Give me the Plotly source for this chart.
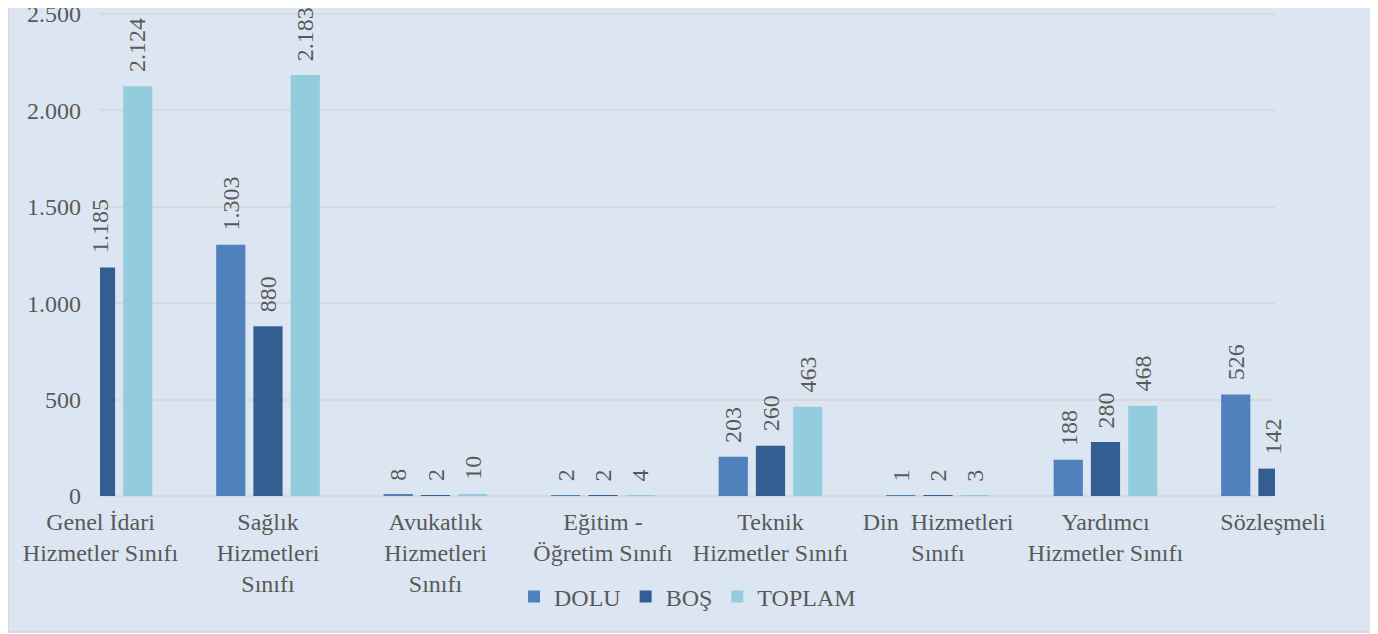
import plotly.graph_objects as go

categories = [
    "Genel İdari<br>Hizmetler Sınıfı",
    "Sağlık<br>Hizmetleri<br>Sınıfı",
    "Avukatlık<br>Hizmetleri<br>Sınıfı",
    "Eğitim -<br>Öğretim Sınıfı",
    "Teknik<br>Hizmetler Sınıfı",
    "Din  Hizmetleri<br>Sınıfı",
    "Yardımcı<br>Hizmetler Sınıfı",
    "Sözleşmeli",
]
dolu = [None, 1303, 8, 2, 203, 1, 188, 526]
bos = [1185, 880, 2, 2, 260, 2, 280, 142]
toplam = [2124, 2183, 10, 4, 463, 3, 468, None]

series_names = ["DOLU", "BOŞ", "TOPLAM"]
series_values = [dolu, bos, toplam]
series_colors = ["#4f81bd", "#345e91", "#93cddd"]

FONT = "Liberation Serif"
TXT = "#595959"
BG = "#dce6f2"
GRID = "#d9d9d9"

BARGAP = 0.333
SLOT = (1 - BARGAP) / 3

fig = go.Figure()
for name, vals, col in zip(series_names, series_values, series_colors):
    fig.add_trace(go.Bar(
        name=name, x=categories, y=vals,
        marker=dict(color=col, line=dict(width=0)),
    ))

annotations = []
for k, vals in enumerate(series_values):
    off = (k - 1) * SLOT
    for i, v in enumerate(vals):
        if v is None:
            continue
        annotations.append(dict(
            x=i + off, y=v, xref="x", yref="y",
            text=f"{v:,}".replace(",", "."),
            textangle=-90, showarrow=False,
            xanchor="center", yanchor="bottom", yshift=12,
            font=dict(family=FONT, size=24, color=TXT),
        ))

# the page body adds an 8px offset; the figure is sized/placed to compensate
fig.update_layout(
    template="none",
    width=1370, height=626,
    margin=dict(l=92, r=103, t=0, b=138),
    paper_bgcolor="white",
    plot_bgcolor="rgba(0,0,0,0)",
    separators=",.",
    barmode="group",
    bargap=BARGAP,
    bargroupgap=0.216,
    font=dict(family=FONT, size=24, color=TXT),
    showlegend=True,
    legend=dict(
        orientation="h", x=0.50, xanchor="center", y=-0.207, yanchor="middle",
        font=dict(family=FONT, size=24, color=TXT),
        bgcolor="rgba(0,0,0,0)", itemwidth=30,
    ),
    annotations=annotations,
    shapes=[dict(
        type="rect", xref="paper", yref="paper",
        x0=-0.078, x1=1.0891, y0=-0.2787, y1=1.06,
        fillcolor=BG, line=dict(color=GRID, width=2), layer="below",
    )],
)
fig.update_xaxes(
    range=[-0.003, 7.012], showgrid=False, showline=False, zeroline=False,
    ticks="", ticklabelstandoff=9, automargin=False,
    tickfont=dict(family=FONT, size=24, color=TXT),
)
fig.update_yaxes(
    range=[0, 2530], tickvals=[0, 500, 1000, 1500, 2000, 2500], tickformat=",d",
    showgrid=True, gridcolor=GRID, gridwidth=2,
    zeroline=True, zerolinecolor=GRID, zerolinewidth=2,
    showline=False, ticks="", ticklabelstandoff=18, automargin=False,
    ticklabeloverflow="allow",
    tickfont=dict(family=FONT, size=24, color=TXT),
)

fig.write_html("out.html")
